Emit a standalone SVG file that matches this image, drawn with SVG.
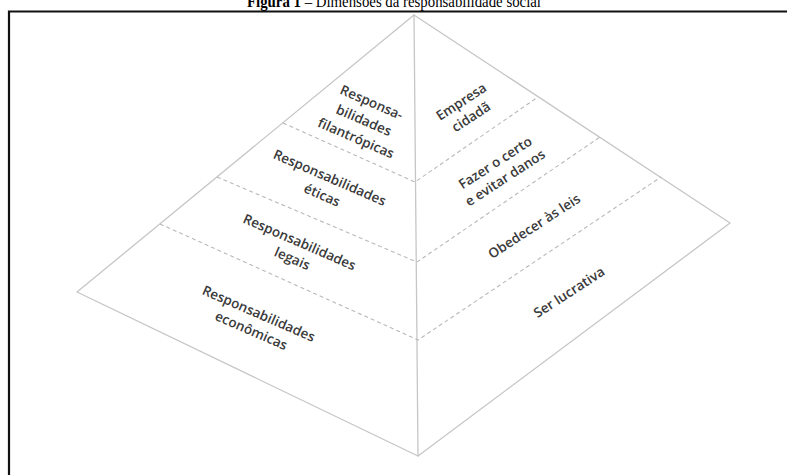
<svg xmlns="http://www.w3.org/2000/svg" width="787" height="475" viewBox="0 0 787 475">
<style>
.edge{stroke:#c6c6c6;stroke-width:1.3;fill:none;stroke-linecap:round;stroke-linejoin:round}
.dash{stroke:#b9b9b9;stroke-width:1.1;fill:none;stroke-dasharray:4 3}
.lbl{font-family:"Open Sans","Noto Sans","DejaVu Sans",sans-serif;font-size:13.5px;font-weight:600;fill:#3a3a3a;text-anchor:middle}
.title{font-family:"Liberation Serif","DejaVu Serif",serif;font-size:16px;fill:#000}
.frame{stroke:#111;stroke-width:2.2;fill:none}
</style>
<rect width="787" height="475" fill="#fff"/>
<text class="title" x="247" y="7" textLength="294" lengthAdjust="spacingAndGlyphs"><tspan font-weight="bold">Figura 1</tspan> – Dimensões da responsabilidade social</text>
<path class="frame" d="M9,475 V11.5 H787"/>
<g id="connectors">
<path class="edge" d="M414,15 L77,292 L418,456 L730,223 Z"/>
<path class="edge" d="M414,15 L418,456"/>
<path class="dash" d="M283,123 L415,182 L538,97"/>
<path class="dash" d="M217,177 L417,262 L600,137"/>
<path class="dash" d="M160,224 L418,340 L661,177"/>
</g>
<g id="n-filantropicas" transform="translate(364,120) rotate(23.5)"><text class="lbl"><tspan x="0" y="-14.5">Responsa-</tspan><tspan x="0" y="5">bilidades</tspan><tspan x="0" y="24.5">filantrópicas</tspan></text></g>
<g id="n-eticas" transform="translate(326,186) rotate(23.5)"><text class="lbl"><tspan x="0" y="-4.5">Responsabilidades</tspan><tspan x="0" y="14.5">éticas</tspan></text></g>
<g id="n-legais" transform="translate(296,250) rotate(23.5)"><text class="lbl"><tspan x="0" y="-4">Responsabilidades</tspan><tspan x="0" y="14">legais</tspan></text></g>
<g id="n-economicas" transform="translate(255,322) rotate(23.5)"><text class="lbl"><tspan x="0" y="-4.5">Responsabilidades</tspan><tspan x="0" y="14">econômicas</tspan></text></g>
<g id="n-cidada" transform="translate(466,109) rotate(-33)"><text class="lbl"><tspan x="0" y="-4">Empresa</tspan><tspan x="0" y="14">cidadã</tspan></text></g>
<g id="n-certo" transform="translate(500,170) rotate(-33)"><text class="lbl"><tspan x="0" y="-4">Fazer o certo</tspan><tspan x="0" y="14">e evitar danos</tspan></text></g>
<g id="n-leis" transform="translate(534,226) rotate(-33)"><text class="lbl" y="5">Obedecer às leis</text></g>
<g id="n-lucrativa" transform="translate(569,292) rotate(-33)"><text class="lbl" y="5">Ser lucrativa</text></g>
</svg>
